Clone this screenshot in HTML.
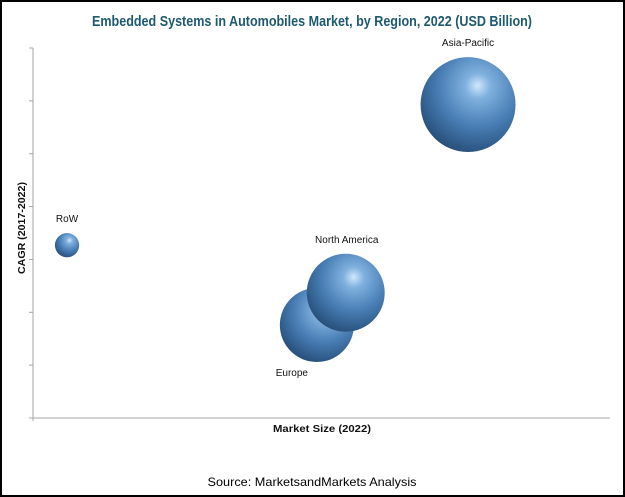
<!DOCTYPE html>
<html><head><meta charset="utf-8"><style>
html,body{margin:0;padding:0;background:#fff}
svg{display:block}
</style></head><body>
<svg id="chart" width="625" height="497" viewBox="0 0 625 497" xmlns="http://www.w3.org/2000/svg" font-family="Liberation Sans, sans-serif">
<defs>
<radialGradient id="ball" cx="0.62" cy="0.32" r="0.75" fx="0.6" fy="0.3">
<stop offset="0" stop-color="#cfe8fb"/>
<stop offset="0.18" stop-color="#7fb0de"/>
<stop offset="0.55" stop-color="#4a7fb6"/>
<stop offset="0.85" stop-color="#2f5b8a"/>
<stop offset="1" stop-color="#274a70"/>
</radialGradient>
</defs>
<rect x="1" y="1" width="623" height="495" fill="#fff" stroke="#000" stroke-width="2"/>
<text x="312" y="26" text-anchor="middle" font-size="15" font-weight="bold" fill="#1e5a6e" textLength="440" lengthAdjust="spacingAndGlyphs">Embedded Systems in Automobiles Market, by Region, 2022 (USD Billion)</text>
<g id="axes"></g>
<g id="bubbles"></g>
<text transform="translate(25,228) rotate(-90)" text-anchor="middle" font-size="10" font-weight="bold" fill="#111" textLength="92" lengthAdjust="spacingAndGlyphs">CAGR (2017-2022)</text>
<text x="322" y="432" text-anchor="middle" font-size="10" font-weight="bold" fill="#111" textLength="98" lengthAdjust="spacingAndGlyphs">Market Size (2022)</text>
<text x="312" y="486" text-anchor="middle" font-size="12" fill="#000" textLength="209" lengthAdjust="spacingAndGlyphs">Source: MarketsandMarkets Analysis</text>
</svg>
<script>
const regions = ["RoW", "Asia-Pacific", "Europe", "North America"];
const marketSize = [5.9, 75.4, 49.2, 54.2];
const cagr = [3.27, 5.93, 1.76, 2.37];
const bubbleSize = [3, 46, 28, 31];
const yTicks = [0, 1, 2, 3, 4, 5, 6, 7];

const NS = "http://www.w3.org/2000/svg";
const X0 = 33, X1 = 610, Y0 = 418, Y1 = 48;
function xs(v){ return X0 + (v / 100) * (X1 - X0); }
function ys(v){ return Y0 - (v / 7) * (Y0 - Y1); }
function rs(s){ return 7 * Math.sqrt(s); }
function mk(tag, attrs){ const e = document.createElementNS(NS, tag); for (const k in attrs) e.setAttribute(k, attrs[k]); return e; }

const axes = document.getElementById('axes');
const yl = mk('line', {x1: X0, y1: Y1, x2: X0, y2: Y0 + 3, stroke: '#a6a6a6', 'stroke-width': 1});


axes.appendChild(yl);
const xl = mk('line', {x1: X0, y1: Y0, x2: X1, y2: Y0, stroke: '#a6a6a6', 'stroke-width': 1});


axes.appendChild(xl);
yTicks.forEach(t => {
  const tk = mk('line', {x1: X0 - 4, y1: ys(t), x2: X0, y2: ys(t), stroke: '#a6a6a6', 'stroke-width': 1});
  
  
  axes.appendChild(tk);
});

const g = document.getElementById('bubbles');
const below = [false, false, true, false];
const dx = [0, 0, -25, 1];
regions.forEach((name, i) => {
  const cx = xs(marketSize[i]), cy = ys(cagr[i]), r = rs(bubbleSize[i]);
  const c = mk('circle', {cx: cx, cy: cy, r: r, fill: 'url(#ball)'});
  
  
  g.appendChild(c);
  const ly = below[i] ? cy + r + 14 : cy - r - 11;
  const t = mk('text', {x: cx + dx[i], y: ly, 'text-anchor': 'middle', 'font-size': 10, fill: '#111'});
  t.textContent = name;
  
  
  g.appendChild(t);
});
</script>
</body></html>
